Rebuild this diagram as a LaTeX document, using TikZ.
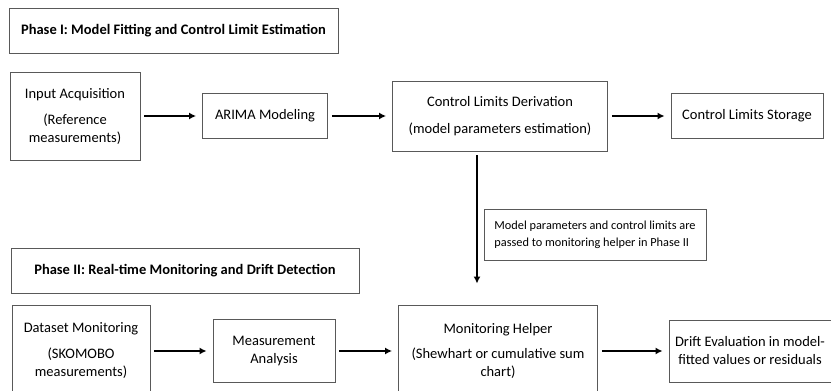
\documentclass[tikz,border=0pt]{standalone}
\usepackage{fontspec}
\setmainfont{Carlito}
\usepackage{tikz}
\usetikzlibrary{arrows.meta,positioning}

\tikzset{
  box/.style={draw=black!65,line width=0.9pt,align=center,inner sep=3pt,
    font=\fontsize{14.5}{18}\selectfont},
  phase/.style={box,font=\fontsize{14.5}{18}\selectfont\bfseries},
  notebox/.style={box,align=left,font=\fontsize{12.3}{17}\selectfont},
  flow/.style={-{Latex[length=7pt,width=7pt]},line width=1.8pt,shorten <=4pt,shorten >=6pt}
}

\begin{document}
\begin{tikzpicture}[x=1pt,y=-1pt,node distance=200pt,on grid]
  \useasboundingbox (0,0) rectangle (831,391);
  \clip (0,0) rectangle (831,391);
  % phase I
  \node[phase,minimum width=329pt,minimum height=45pt] (ph1) at (173.5,30.5)
    {Phase I: Model Fitting and Control Limit Estimation};
  \node[box,minimum width=130pt,minimum height=88pt] (in) at (75,116)
    {Input Acquisition\\[8pt](Reference\\measurements)};
  \node[box,minimum width=125pt,minimum height=45pt] (arima) [right=190pt of in]
    {ARIMA Modeling};
  \node[box,minimum width=215pt,minimum height=70pt] (derive) [right=235pt of arima]
    {Control Limits Derivation\\[9pt](model parameters estimation)};
  \node[box,minimum width=152pt,minimum height=45pt] (store) [right=247pt of derive]
    {Control Limits Storage};
  % hand over
  \node[notebox,minimum width=222pt,minimum height=51pt] (note) at (595,234.5)
    {Model parameters and control limits are\\passed to monitoring helper in Phase II};
  % phase II
  \node[phase,minimum width=348pt,minimum height=45pt] (ph2) at (185,270.5)
    {Phase II: Real-time Monitoring and Drift Detection};
  \node[box,minimum width=138pt,minimum height=92pt] (data) at (81,351)
    {Dataset Monitoring\\[8pt](SKOMOBO\\measurements)};
  \node[box,minimum width=122pt,minimum height=63pt] (analysis) [right=193pt of data]
    {Measurement\\Analysis};
  \node[box,minimum width=199pt,minimum height=92pt] (helper) [right=224pt of analysis]
    {Monitoring Helper\\[7pt](Shewhart or cumulative sum\\chart)};
  \node[box,minimum width=162pt,minimum height=62pt] (drift) [right=252pt of helper]
    {Drift Evaluation in model-\\fitted values or residuals};
  \draw[flow] (in) -- (arima);
  \draw[flow] (arima) -- (derive);
  \draw[flow] (derive.east) -- (store.west |- derive.east);
  \draw[flow,shorten >=21pt] (derive.south -| 477,0) -- (helper.north -| 477,0);
  \draw[flow] (data.east |- analysis) -- (analysis);
  \draw[flow] (analysis) -- (helper.west |- analysis);
  \draw[flow] (helper.east |- drift) -- (drift);
\end{tikzpicture}
\end{document}
